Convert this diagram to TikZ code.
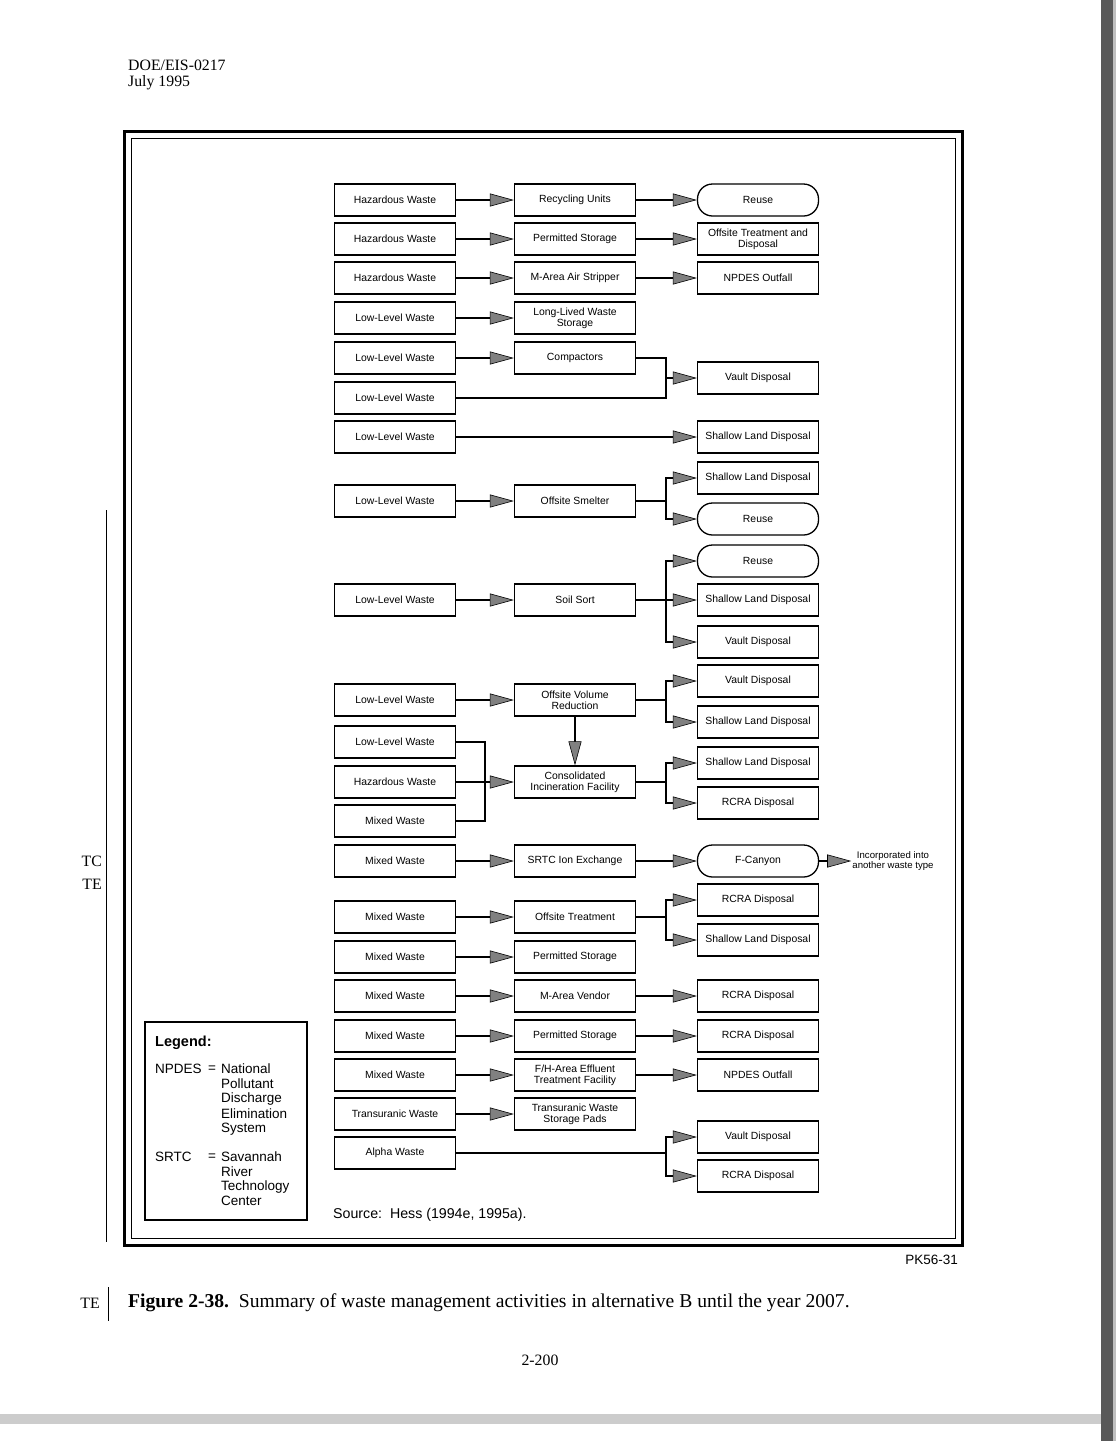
\documentclass[tikz,border=0pt]{standalone}
\usepackage{fontspec}
\setmainfont{Liberation Serif}
\newfontfamily\hv{Liberation Sans}
\usetikzlibrary{arrows.meta}
\begin{document}
\begin{tikzpicture}[x=1pt,y=-1pt,
  wbox/.style={draw, line width=1.3pt, minimum width=121pt, minimum height=32pt, inner sep=1pt, align=center, font=\hv\fontsize{10.4}{11}\selectfont},
  rbox/.style={wbox, rounded corners=15pt},
  arr/.style={line width=1.6pt, -{Triangle[length=24pt,width=13pt,fill=black!50,line width=0.6pt]}},
  ln/.style={line width=1.6pt},
  serif/.style={font=\rmfamily\fontsize{15.8}{17}\selectfont, inner sep=0pt},
  leg/.style={font=\hv\fontsize{13.5}{15}\selectfont, inner sep=0pt, anchor=west}
]
\useasboundingbox (0,0) rectangle (1116,1441);
\fill[white] (0,0) rectangle (1116,1441);
% scan edges
\fill[black!65] (1101,0) rectangle (1113,1441);
\fill[black!25] (1113,0) rectangle (1116,1441);
\fill[black!20] (0,1414) rectangle (1101,1424);

% header
\node[serif, anchor=west] (h1) at (128,65) {DOE/EIS-0217};
\node[serif, anchor=west] (h2) at (128,83) {July 1995};

% frame
\draw[line width=3pt] (124,131) rectangle (962,1245);
\draw[line width=1pt] (131,138) rectangle (955,1238);

% margin marks
\draw[line width=1pt] (106,510) -- (106,1242);
\node[serif, anchor=east] (tc) at (102,861) {TC};
\node[serif, anchor=east] (te) at (102,884) {TE};

% row 1-3
\node[wbox] (l1) at (395,200) {Hazardous Waste};
\node[wbox] (m1) at (575,200) {Recycling Units};
\node[rbox] (r1) at (758,200) {Reuse};
\node[wbox] (l2) at (395,239) {Hazardous Waste};
\node[wbox] (m2) at (575,239) {Permitted Storage};
\node[wbox] (r2) at (758,239) {Offsite Treatment and\\Disposal};
\node[wbox] (l3) at (395,278) {Hazardous Waste};
\node[wbox] (m3) at (575,278) {M-Area Air Stripper};
\node[wbox] (r3) at (758,278) {NPDES Outfall};
\draw[arr] (l1) -- (m1); \draw[arr] (m1) -- (r1);
\draw[arr] (l2) -- (m2); \draw[arr] (m2) -- (r2);
\draw[arr] (l3) -- (m3); \draw[arr] (m3) -- (r3);

% row 4
\node[wbox] (l4) at (395,318) {Low-Level Waste};
\node[wbox] (m4) at (575,318) {Long-Lived Waste\\Storage};
\draw[arr] (l4) -- (m4);

% rows 5-6
\node[wbox] (l5) at (395,358) {Low-Level Waste};
\node[wbox] (m5) at (575,358) {Compactors};
\node[wbox] (l6) at (395,398) {Low-Level Waste};
\node[wbox] (r6) at (758,378) {Vault Disposal};
\coordinate (j6) at (666,378);
\draw[arr] (l5) -- (m5);
\draw[ln] (m5.east) -| (j6);
\draw[ln] (l6.east) -| (j6);
\draw[arr] (j6) -- (r6.west);

% row 7
\node[wbox] (l7) at (395,437) {Low-Level Waste};
\node[wbox] (r7) at (758,437) {Shallow Land Disposal};
\draw[arr] (l7) -- (r7);

% row 8
\node[wbox] (l8) at (395,501) {Low-Level Waste};
\node[wbox] (m8) at (575,501) {Offsite Smelter};
\node[wbox] (r8a) at (758,478) {Shallow Land Disposal};
\node[rbox] (r8b) at (758,519) {Reuse};
\coordinate (j8) at (666,501);
\draw[arr] (l8) -- (m8);
\draw[ln] (m8.east) -- (j8);
\draw[arr] (j8) |- (r8a.west);
\draw[arr] (j8) |- (r8b.west);

% row 9
\node[wbox] (l9) at (395,600) {Low-Level Waste};
\node[wbox] (m9) at (575,600) {Soil Sort};
\node[rbox] (r9a) at (758,561) {Reuse};
\node[wbox] (r9b) at (758,600) {Shallow Land Disposal};
\node[wbox] (r9c) at (758,642) {Vault Disposal};
\coordinate (j9) at (666,600);
\draw[arr] (l9) -- (m9);
\draw[ln] (m9.east) -- (j9);
\draw[arr] (j9) |- (r9a.west);
\draw[arr] (j9) -- (r9b.west);
\draw[arr] (j9) |- (r9c.west);

% row 10
\node[wbox] (l10) at (395,700) {Low-Level Waste};
\node[wbox] (m10) at (575,700) {Offsite Volume\\Reduction};
\node[wbox] (r10a) at (758,681) {Vault Disposal};
\node[wbox] (r10b) at (758,722) {Shallow Land Disposal};
\coordinate (j10) at (666,700);
\draw[arr] (l10) -- (m10);
\draw[ln] (m10.east) -- (j10);
\draw[arr] (j10) |- (r10a.west);
\draw[arr] (j10) |- (r10b.west);

% row 11
\node[wbox] (l11a) at (395,742) {Low-Level Waste};
\node[wbox] (l11b) at (395,782) {Hazardous Waste};
\node[wbox] (l11c) at (395,821) {Mixed Waste};
\node[wbox] (m11) at (575,782) {Consolidated\\Incineration Facility};
\node[wbox] (r11a) at (758,763) {Shallow Land Disposal};
\node[wbox] (r11b) at (758,803) {RCRA Disposal};
\coordinate (k11) at (485,782);
\coordinate (j11) at (666,782);
\draw[ln] (l11a.east) -| (k11);
\draw[ln] (l11c.east) -| (k11);
\draw[arr] (l11b) -- (m11);
\draw[arr] (m10) -- (m11);
\draw[ln] (m11.east) -- (j11);
\draw[arr] (j11) |- (r11a.west);
\draw[arr] (j11) |- (r11b.west);

% row 12
\node[wbox] (l12) at (395,861) {Mixed Waste};
\node[wbox] (m12) at (575,861) {SRTC Ion Exchange};
\node[rbox] (r12) at (758,861) {F-Canyon};
\node[align=center, inner sep=1pt, font=\hv\fontsize{9.6}{10.5}\selectfont] (t12) at (893,861) {Incorporated into\\another waste type};
\draw[arr] (l12) -- (m12);
\draw[arr] (m12) -- (r12);
\draw[arr] (r12) -- (t12);

% row 13
\node[wbox] (l13) at (395,917) {Mixed Waste};
\node[wbox] (m13) at (575,917) {Offsite Treatment};
\node[wbox] (r13a) at (758,900) {RCRA Disposal};
\node[wbox] (r13b) at (758,940) {Shallow Land Disposal};
\coordinate (j13) at (666,917);
\draw[arr] (l13) -- (m13);
\draw[ln] (m13.east) -- (j13);
\draw[arr] (j13) |- (r13a.west);
\draw[arr] (j13) |- (r13b.west);

% row 14
\node[wbox] (l14) at (395,957) {Mixed Waste};
\node[wbox] (m14) at (575,957) {Permitted Storage};
\draw[arr] (l14) -- (m14);

% row 15
\node[wbox] (l15) at (395,996) {Mixed Waste};
\node[wbox] (m15) at (575,996) {M-Area Vendor};
\node[wbox] (r15) at (758,996) {RCRA Disposal};
\draw[arr] (l15) -- (m15); \draw[arr] (m15) -- (r15);

% row 16
\node[wbox] (l16) at (395,1036) {Mixed Waste};
\node[wbox] (m16) at (575,1036) {Permitted Storage};
\node[wbox] (r16) at (758,1036) {RCRA Disposal};
\draw[arr] (l16) -- (m16); \draw[arr] (m16) -- (r16);

% row 17
\node[wbox] (l17) at (395,1075) {Mixed Waste};
\node[wbox] (m17) at (575,1075) {F/H-Area Effluent\\Treatment Facility};
\node[wbox] (r17) at (758,1075) {NPDES Outfall};
\draw[arr] (l17) -- (m17); \draw[arr] (m17) -- (r17);

% row 18
\node[wbox] (l18) at (395,1114) {Transuranic Waste};
\node[wbox] (m18) at (575,1114) {Transuranic Waste\\Storage Pads};
\draw[arr] (l18) -- (m18);

% row 19
\node[wbox] (l19) at (395,1153) {Alpha Waste};
\node[wbox] (r19a) at (758,1137) {Vault Disposal};
\node[wbox] (r19b) at (758,1176) {RCRA Disposal};
\coordinate (j19) at (666,1153);
\draw[ln] (l19.east) -- (j19);
\draw[arr] (j19) |- (r19a.west);
\draw[arr] (j19) |- (r19b.west);

% legend
\draw[line width=1.5pt] (145,1022) rectangle (307,1220);
\node[leg, font=\hv\bfseries\fontsize{14.5}{16}\selectfont] (lg) at (155,1043) {Legend:};
\node[leg] (a1) at (155,1069) {NPDES};
\node[leg] (e1) at (208,1069) {=};
\node[leg] (w1) at (221,1069) {National};
\node[leg] (w2) at (221,1084) {Pollutant};
\node[leg] (w3) at (221,1099) {Discharge};
\node[leg] (w4) at (221,1114) {Elimination};
\node[leg] (w5) at (221,1129) {System};
\node[leg] (a2) at (155,1157) {SRTC};
\node[leg] (e2) at (208,1157) {=};
\node[leg] (w6) at (221,1157) {Savannah};
\node[leg] (w7) at (221,1172) {River};
\node[leg] (w8) at (221,1187) {Technology};
\node[leg] (w9) at (221,1201) {Center};

% source
\node[leg, font=\hv\fontsize{14.2}{16}\selectfont] (src) at (333,1215) {Source:\ \ Hess (1994e, 1995a).};

% figure id
\node[inner sep=0pt, anchor=east, font=\hv\fontsize{13.5}{15}\selectfont] (pk) at (958,1260) {PK56-31};

% caption
\node[serif, anchor=west, font=\rmfamily\fontsize{19.6}{21}\selectfont] (cap) at (128,1303) {\textbf{Figure 2-38.}\ \ Summary of waste management activities in alternative B until the year 2007.};
\node[serif, anchor=east] (te2) at (100,1303) {TE};
\draw[line width=1pt] (108,1287) -- (108,1321);

% page number
\node[serif] (pg) at (540,1360) {2-200};
\end{tikzpicture}
\end{document}
